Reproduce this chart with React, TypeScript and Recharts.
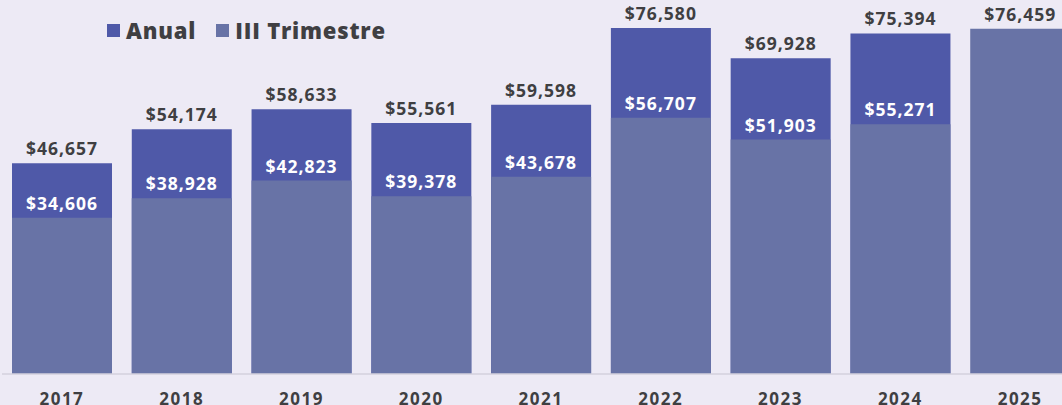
import { BarChart, Bar, XAxis, YAxis, LabelList } from 'recharts';

// años y valores
const years = ['2017', '2018', '2019', '2020', '2021', '2022', '2023', '2024', '2025'];
const anual = [46657, 54174, 58633, 55561, 59598, 76580, 69928, 75394, null];
const trimestre = [34606, 38928, 42823, 39378, 43678, 56707, 51903, 55271, 76459];

const COLOR_ANUAL = '#4f59a8';
const COLOR_TRIM = '#6873a6';
const TEXT = '#3f3f42';
const FONT = '"Open Sans", sans-serif';

const data = years.map((year, i) => ({ year, anual: anual[i], trimestre: trimestre[i] }));

const fmt = (v: number) => `$${v.toLocaleString('en-US')}`;

/** etiqueta encima de la barra anual */
function AnualLabel(props: any) {
  const { x, y, width, value } = props;
  if (value == null) return null;
  return (
    <text
      x={x + width / 2}
      y={y - 8}
      textAnchor="middle"
      fill={TEXT}
      fontFamily={FONT}
      fontWeight={700}
      fontSize={17.5}
      letterSpacing={1}
    >
      {fmt(value)}
    </text>
  );
}

/** etiqueta del trimestre: blanca dentro de la barra anual, oscura si no hay anual */
function TrimLabel(props: any) {
  const { x, y, width, value, index } = props;
  const inside = anual[index] != null;
  return (
    <text
      x={x + width / 2}
      y={y - 8}
      textAnchor="middle"
      fill={inside ? '#ffffff' : TEXT}
      fontFamily={FONT}
      fontWeight={700}
      fontSize={17.5}
      letterSpacing={1}
    >
      {fmt(value)}
    </text>
  );
}

function LegendItem({ color, label }: { color: string; label: string }) {
  return (
    <div style={{ display: 'flex', alignItems: 'center', gap: 6 }}>
      <div style={{ width: 13, height: 13, backgroundColor: color }} />
      <span>{label}</span>
    </div>
  );
}

export default function App() {
  return (
    <div
      style={{
        position: 'fixed',
        top: 0,
        left: 0,
        width: 1062,
        height: 405,
        overflow: 'hidden',
        background: '#edeaf5',
      }}
    >
      <BarChart
        width={1080}
        height={405}
        data={data}
        margin={{ top: 14, right: 0, bottom: 0, left: 2 }}
        barSize={100}
        barGap={-100}
      >
        <XAxis
          dataKey="year"
          height={31}
          axisLine={{ stroke: '#d3d1dc', strokeWidth: 1.5 }}
          tickLine={false}
          tick={{ fill: TEXT, fontFamily: FONT, fontWeight: 700, fontSize: 17, letterSpacing: 1.5 }}
          tickMargin={13}
          interval={0}
        />
        <YAxis hide domain={[0, 79700]} />
        <Bar dataKey="anual" fill={COLOR_ANUAL} isAnimationActive={false}>
          <LabelList dataKey="anual" content={<AnualLabel />} />
        </Bar>
        <Bar dataKey="trimestre" fill={COLOR_TRIM} isAnimationActive={false}>
          <LabelList dataKey="trimestre" content={<TrimLabel />} />
        </Bar>
      </BarChart>
      <div
        style={{
          position: 'absolute',
          top: 15,
          left: 107,
          display: 'flex',
          gap: 20,
          fontFamily: FONT,
          fontWeight: 800,
          fontSize: 22,
          letterSpacing: 0.8,
          color: TEXT,
        }}
      >
        <LegendItem color={COLOR_ANUAL} label="Anual" />
        <LegendItem color={COLOR_TRIM} label="III Trimestre" />
      </div>
    </div>
  );
}
